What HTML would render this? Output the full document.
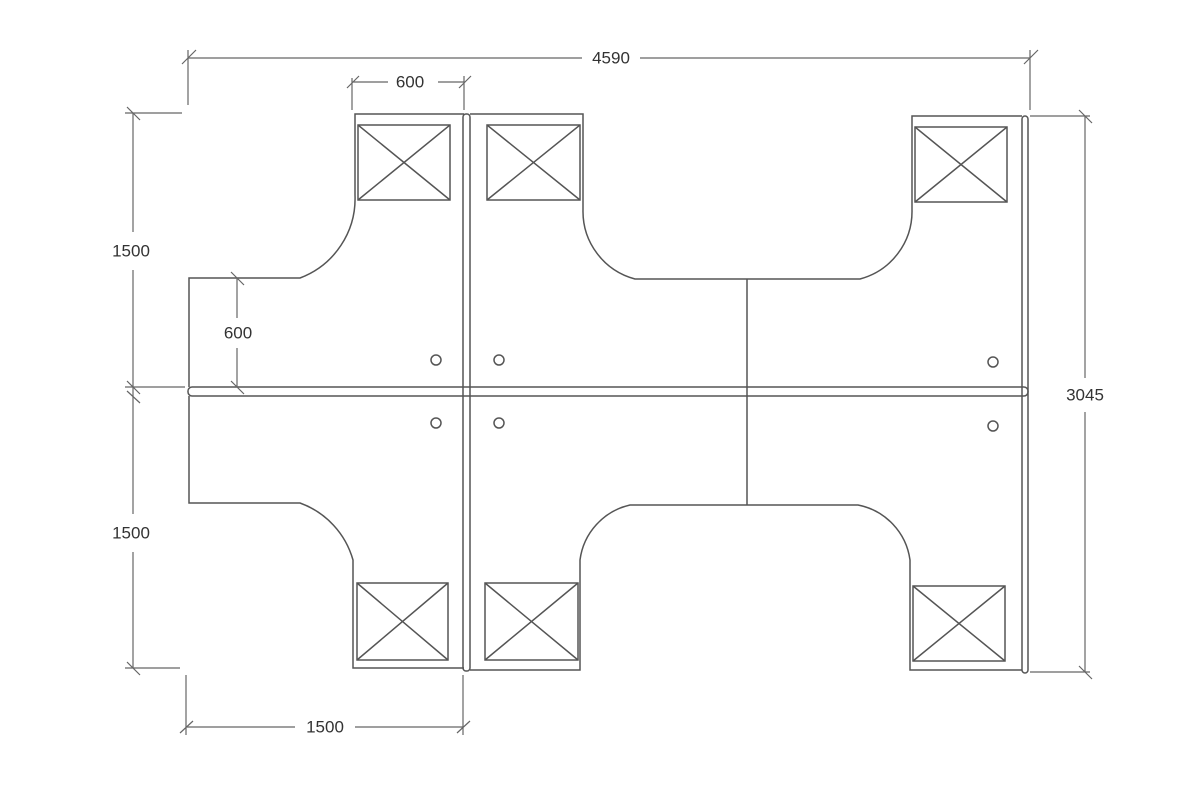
<!DOCTYPE html>
<html><head><style>
body{margin:0;background:#fff}
svg{display:block}
text{font-family:"Liberation Sans",sans-serif;font-size:17px;fill:#333;text-anchor:middle;dominant-baseline:central}
</style></head><body>
<svg width="1199" height="811" viewBox="0 0 1199 811" xmlns="http://www.w3.org/2000/svg">
<g fill="none" stroke="#555" stroke-width="1.5">
<!-- left outline -->
<path d="M464 114 H355 V195 A85 85 0 0 1 300 278 H189 V387"/>
<path d="M189 396 V503 H300 A85 85 0 0 1 353 560 V668 H464"/>
<!-- middle/right top -->
<path d="M470 114 H583 V210 A70 70 0 0 0 635 279 H860 A70 70 0 0 0 912 210 V116 H1022"/>
<path d="M470 670 H580 V560 A65 65 0 0 1 630 505 H858 A65 65 0 0 1 910 560 V670 H1022"/>
<line x1="747" y1="279" x2="747" y2="505"/>
<!-- panels -->
<rect x="463" y="114" width="7" height="557" rx="3"/>
<rect x="1022" y="116" width="6" height="557" rx="3"/>
<rect x="188" y="387" width="840" height="9" rx="4"/>
<!-- boxes -->
<g>
<rect x="358" y="125" width="92" height="75"/><path d="M358 125 L450 200 M450 125 L358 200"/>
<rect x="487" y="125" width="93" height="75"/><path d="M487 125 L580 200 M580 125 L487 200"/>
<rect x="915" y="127" width="92" height="75"/><path d="M915 127 L1007 202 M1007 127 L915 202"/>
<rect x="357" y="583" width="91" height="77"/><path d="M357 583 L448 660 M448 583 L357 660"/>
<rect x="485" y="583" width="93" height="77"/><path d="M485 583 L578 660 M578 583 L485 660"/>
<rect x="913" y="586" width="92" height="75"/><path d="M913 586 L1005 661 M1005 586 L913 661"/>
</g>
<circle cx="436" cy="360" r="5"/><circle cx="499" cy="360" r="5"/><circle cx="993" cy="362" r="5"/>
<circle cx="436" cy="423" r="5"/><circle cx="499" cy="423" r="5"/><circle cx="993" cy="426" r="5"/>
</g>
<g fill="none" stroke="#666" stroke-width="1.2">
<!-- top 4590 -->
<path d="M188 58 H582 M640 58 H1030"/>
<path d="M188 50 V105 M1030 50 V110 M182 64 L196 50 M1024 64 L1038 50"/>
<!-- top 600 -->
<path d="M352 82 H388 M438 82 H464 M352 78 V110 M464 76 V110 M347 88 L359 76 M459 88 L471 76"/>
<!-- left 1500s -->
<path d="M133 113 V232 M133 270 V514 M133 552 V668"/>
<path d="M125 113 H182 M125 387 H185 M125 668 H180 M127 107 L140 120 M127 381 L140 394 M127 391 L140 403 M127 662 L140 675"/>
<!-- left 600 -->
<path d="M237 278 V318 M237 348 V387 M231 272 L244 285 M231 381 L244 394"/>
<!-- bottom 1500 -->
<path d="M186 727 H295 M355 727 H463 M186 675 V735 M463 675 V735 M180 733 L193 721 M457 733 L470 721"/>
<!-- right 3045 -->
<path d="M1085 116 V378 M1085 412 V672 M1030 116 H1090 M1030 672 H1090 M1079 110 L1092 123 M1079 666 L1092 679"/>
</g>
<text x="611" y="58">4590</text>
<text x="410" y="82">600</text>
<text x="131" y="251">1500</text>
<text x="131" y="533">1500</text>
<text x="238" y="333">600</text>
<text x="325" y="727">1500</text>
<text x="1085" y="395">3045</text>
</svg>
</body></html>
